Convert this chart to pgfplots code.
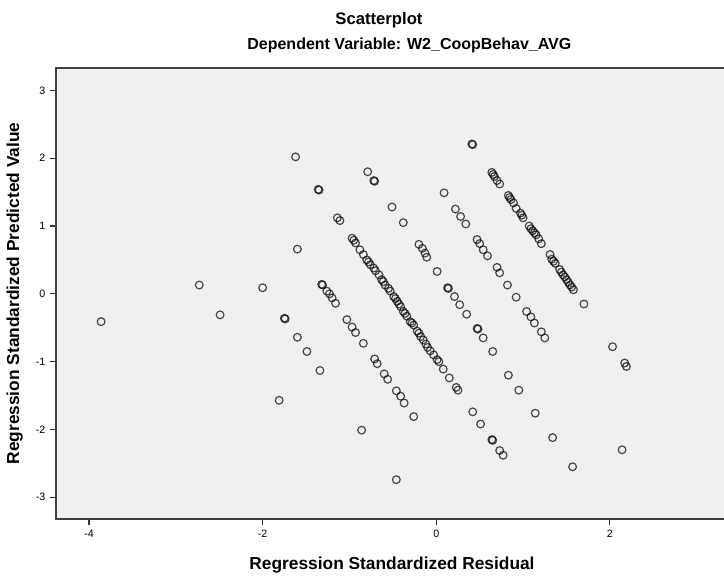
\documentclass[border=0pt]{standalone}
\usepackage{fontspec}
\setmainfont{Liberation Sans}
\usepackage{pgfplots}
\pgfplotsset{compat=1.18}

% residuals (x) vs predicted (y)
\begin{document}
\begin{tikzpicture}
\useasboundingbox (0,0) rectangle (543pt,431.25pt);
\begin{axis}[
    at={(42pt,42pt)}, anchor=south west,
    scale only axis, width=504pt, height=338.25pt,
    xmin=-4.38, xmax=3.36, ymin=-3.32, ymax=3.33,
    xtick={-4,-2,0,2}, ytick={-3,-2,-1,0,1,2,3},
    xtick pos=bottom, ytick pos=left,
    tick align=outside, major tick length=4.5pt,
    tick style={black!80, line width=0.8pt},
    axis line style={black!75, line width=0.9pt},
    axis background/.style={fill=black!6},
    /pgf/number format/assume math mode=true,
    tick label style={font=\fontsize{8}{9}\selectfont},
    xlabel={Regression Standardized Residual},
    ylabel={Regression Standardized Predicted Value},
    label style={font=\bfseries\fontsize{13}{15}\selectfont},
    xlabel style={at={(axis description cs:0.5,0)}, anchor=center, yshift=-34.5pt},
    ylabel style={at={([xshift=-31pt]axis description cs:0,0.5)}, anchor=center},
]
\addplot[only marks, mark=o, mark size=2.9pt,
         mark options={draw=black, draw opacity=0.7, line width=0.9pt}]
  coordinates {
  (-3.86,-0.41)
  (-2.73,0.13) (-2.49,-0.31) (-1.81,-1.57)
  (-2.00,0.09) (-1.75,-0.36) (-1.74,-0.37) (-1.60,-0.64) (-1.49,-0.85)
  (-1.34,-1.13) (-0.86,-2.01) (-0.46,-2.74)
  (-1.60,0.66) (-1.32,0.14) (-1.31,0.13) (-1.26,0.04) (-1.23,0.00)
  (-1.20,-0.06) (-1.16,-0.14) (-1.03,-0.38) (-0.97,-0.49) (-0.93,-0.57)
  (-0.84,-0.73) (-0.71,-0.96) (-0.68,-1.03) (-0.60,-1.18) (-0.56,-1.26)
  (-0.46,-1.43) (-0.41,-1.51) (-0.37,-1.61) (-0.26,-1.81)
  (-1.62,2.02) (-1.36,1.54) (-1.35,1.53) (-1.14,1.12) (-1.11,1.08)
  (-0.97,0.82) (-0.95,0.79) (-0.93,0.75) (-0.88,0.65) (-0.84,0.58)
  (-0.80,0.50) (-0.78,0.47) (-0.76,0.43) (-0.72,0.38) (-0.70,0.34)
  (-0.66,0.28) (-0.63,0.21) (-0.61,0.18) (-0.59,0.13) (-0.55,0.08)
  (-0.53,0.04) (-0.49,-0.04) (-0.47,-0.07) (-0.45,-0.11) (-0.43,-0.15)
  (-0.41,-0.19) (-0.38,-0.26) (-0.36,-0.29) (-0.34,-0.33) (-0.30,-0.41)
  (-0.28,-0.43) (-0.26,-0.46) (-0.22,-0.55) (-0.20,-0.58) (-0.18,-0.63)
  (-0.15,-0.68) (-0.12,-0.74) (-0.10,-0.79) (-0.07,-0.84) (-0.03,-0.90)
  (0.01,-0.97) (0.03,-1.00) (0.08,-1.11) (0.15,-1.24) (0.23,-1.38)
  (0.25,-1.42) (0.42,-1.74) (0.51,-1.92) (0.64,-2.15) (0.65,-2.16)
  (0.73,-2.31) (0.77,-2.38)
  (-0.79,1.80) (-0.72,1.67) (-0.71,1.66) (-0.51,1.28) (-0.38,1.05)
  (-0.20,0.73) (-0.16,0.67) (-0.13,0.60) (-0.11,0.54) (0.01,0.33)
  (0.13,0.09) (0.14,0.08) (0.21,-0.04) (0.27,-0.16) (0.35,-0.30)
  (0.47,-0.51) (0.48,-0.52) (0.54,-0.65) (0.65,-0.85) (0.83,-1.20)
  (0.95,-1.42) (1.14,-1.76) (1.34,-2.12) (1.57,-2.55)
  (0.09,1.49) (0.22,1.25) (0.28,1.14) (0.34,1.03) (0.47,0.80)
  (0.50,0.74) (0.54,0.65) (0.59,0.56) (0.70,0.39) (0.73,0.31)
  (0.82,0.13) (0.92,-0.05) (1.04,-0.26) (1.09,-0.34) (1.13,-0.43)
  (1.21,-0.56) (1.25,-0.65) (2.14,-2.30)
  (0.41,2.21) (0.42,2.20) (0.64,1.79) (0.655,1.76) (0.67,1.73)
  (0.70,1.67) (0.73,1.62) (0.83,1.45) (0.845,1.42) (0.86,1.39)
  (0.89,1.34) (0.92,1.26) (0.97,1.19) (0.985,1.16) (1.00,1.12)
  (1.07,1.00) (1.09,0.96) (1.11,0.93) (1.13,0.90) (1.15,0.87)
  (1.18,0.81) (1.21,0.74) (1.31,0.58) (1.33,0.51) (1.35,0.48)
  (1.37,0.45) (1.42,0.36) (1.44,0.32) (1.46,0.28) (1.48,0.25)
  (1.50,0.21) (1.52,0.17) (1.54,0.13) (1.56,0.10) (1.58,0.06)
  (1.70,-0.15) (2.03,-0.78) (2.17,-1.02) (2.19,-1.07)
  };
\end{axis}
\node[font=\bfseries\fontsize{12.5}{14}\selectfont] at (284.25pt,416pt) {Scatterplot};
\node[font=\bfseries\fontsize{12}{14}\selectfont] at (307pt,397pt) {Dependent Variable: W2\_CoopBehav\_AVG};
\end{tikzpicture}
\end{document}
